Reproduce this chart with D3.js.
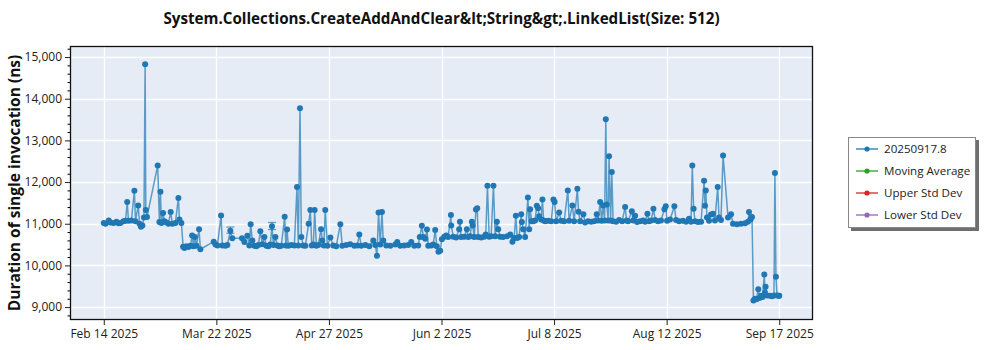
<!DOCTYPE html>
<html>
<head>
<meta charset="utf-8">
<script src="https://cdn.jsdelivr.net/npm/d3@7"></script>
<style>
  html, body { margin: 0; padding: 0; background: #fff; }
  svg { display: block; font-family: "Open Sans", "Noto Sans", sans-serif; }
</style>
</head>
<body>
<svg id="chart" width="1000" height="350"></svg>
<script>
// Benchmark run timestamps (UTC)
const runDates = [
  "2025-02-14 18:00","2025-02-15 07:00","2025-02-16 08:00","2025-02-16 21:00","2025-02-17 20:00",
  "2025-02-18 19:00","2025-02-19 10:00","2025-02-20 01:00","2025-02-21 00:00","2025-02-21 16:00",
  "2025-02-22 05:00","2025-02-22 15:00","2025-02-23 13:00","2025-02-24 12:00","2025-02-24 20:00",
  "2025-02-25 17:00","2025-02-26 03:00","2025-02-26 14:00","2025-02-27 01:00","2025-02-27 13:00",
  "2025-02-27 22:00","2025-02-28 03:00","2025-02-28 12:00","2025-03-03 22:00","2025-03-04 11:00",
  "2025-03-04 19:00","2025-03-05 02:00","2025-03-05 15:00","2025-03-06 01:00","2025-03-06 17:00",
  "2025-03-07 08:00","2025-03-08 01:00","2025-03-08 14:00","2025-03-09 13:00","2025-03-10 12:00",
  "2025-03-10 20:00","2025-03-11 11:00","2025-03-12 00:00","2025-03-12 10:00","2025-03-13 01:00",
  "2025-03-13 17:00","2025-03-14 08:00","2025-03-14 21:00","2025-03-15 07:00","2025-03-15 18:00",
  "2025-03-16 06:00","2025-03-17 02:00","2025-03-17 12:00","2025-03-21 18:00","2025-03-22 07:00",
  "2025-03-22 22:00","2025-03-24 02:00","2025-03-24 12:00","2025-03-25 11:00","2025-03-26 02:00",
  "2025-03-27 01:00","2025-03-27 16:00","2025-03-30 18:00","2025-03-31 12:00","2025-04-01 11:00",
  "2025-04-02 02:00","2025-04-02 12:00","2025-04-03 01:00","2025-04-03 16:00","2025-04-04 08:00",
  "2025-04-04 23:00","2025-04-05 14:00","2025-04-06 06:00","2025-04-06 21:00","2025-04-07 12:00",
  "2025-04-08 03:00","2025-04-08 18:00","2025-04-09 07:00","2025-04-09 18:00","2025-04-10 09:00",
  "2025-04-11 00:00","2025-04-11 15:00","2025-04-12 06:00","2025-04-13 08:00","2025-04-13 17:00",
  "2025-04-14 02:00","2025-04-14 12:00","2025-04-15 11:00","2025-04-16 10:00","2025-04-17 06:00",
  "2025-04-17 16:00","2025-04-18 05:00","2025-04-18 15:00","2025-04-19 06:00","2025-04-19 22:00",
  "2025-04-20 23:00","2025-04-21 12:00","2025-04-21 23:00","2025-04-22 11:00","2025-04-22 21:00",
  "2025-04-23 10:00","2025-04-24 01:00","2025-04-24 22:00","2025-04-25 07:00","2025-04-25 19:00",
  "2025-04-26 06:00","2025-04-26 22:00","2025-04-27 21:00","2025-04-28 19:00","2025-04-29 18:00",
  "2025-05-01 01:00","2025-05-01 16:00","2025-05-02 23:00","2025-05-04 05:00","2025-05-05 12:00",
  "2025-05-06 11:00","2025-05-07 02:00","2025-05-07 17:00","2025-05-09 00:00","2025-05-10 06:00",
  "2025-05-11 13:00","2025-05-12 04:00","2025-05-12 17:00","2025-05-13 05:00","2025-05-13 18:00",
  "2025-05-14 07:00","2025-05-14 17:00","2025-05-15 16:00","2025-05-16 23:00","2025-05-18 13:00",
  "2025-05-19 04:00","2025-05-20 03:00","2025-05-21 09:00","2025-05-22 16:00","2025-05-23 15:00",
  "2025-05-24 14:00","2025-05-25 20:00","2025-05-26 08:00","2025-05-27 00:00","2025-05-27 11:00",
  "2025-05-28 02:00","2025-05-28 15:00","2025-05-29 01:00","2025-05-30 00:00","2025-05-30 15:00",
  "2025-05-31 06:00","2025-05-31 18:00","2025-06-01 07:00","2025-06-01 20:00","2025-06-02 09:00",
  "2025-06-03 03:00","2025-06-03 18:00","2025-06-04 09:00","2025-06-05 06:00","2025-06-05 08:00",
  "2025-06-06 00:00","2025-06-06 22:00","2025-06-07 21:00","2025-06-08 03:00","2025-06-08 12:00",
  "2025-06-09 12:00","2025-06-10 08:00","2025-06-10 18:00","2025-06-11 09:00","2025-06-11 22:00",
  "2025-06-12 04:00","2025-06-12 16:00","2025-06-13 05:00","2025-06-13 15:00","2025-06-13 22:00",
  "2025-06-14 21:00","2025-06-15 20:00","2025-06-16 08:00","2025-06-16 21:00","2025-06-17 10:00",
  "2025-06-18 01:00","2025-06-18 19:00","2025-06-19 08:00","2025-06-19 21:00","2025-06-20 07:00",
  "2025-06-20 22:00","2025-06-21 21:00","2025-06-23 04:00","2025-06-24 03:00","2025-06-24 20:00",
  "2025-06-25 09:00","2025-06-25 22:00","2025-06-26 08:00","2025-06-26 23:00","2025-06-27 15:00",
  "2025-06-27 20:00","2025-06-28 06:00","2025-06-28 21:00","2025-06-29 18:00","2025-06-30 04:00",
  "2025-06-30 11:00","2025-06-30 23:00","2025-07-01 10:00","2025-07-02 01:00","2025-07-02 14:00",
  "2025-07-03 00:00","2025-07-03 08:00","2025-07-03 23:00","2025-07-04 09:00","2025-07-04 18:00",
  "2025-07-05 06:00","2025-07-06 05:00","2025-07-07 04:00","2025-07-07 21:00","2025-07-08 06:00",
  "2025-07-08 18:00","2025-07-09 17:00","2025-07-10 08:00","2025-07-11 07:00","2025-07-12 11:00",
  "2025-07-12 21:00","2025-07-13 22:00","2025-07-14 11:00","2025-07-15 12:00","2025-07-15 21:00",
  "2025-07-16 09:00","2025-07-17 10:00","2025-07-17 23:00","2025-07-18 22:00","2025-07-19 21:00",
  "2025-07-20 20:00","2025-07-21 16:00","2025-07-22 02:00","2025-07-22 18:00","2025-07-23 05:00",
  "2025-07-23 17:00","2025-07-24 04:00","2025-07-24 13:00","2025-07-24 21:00","2025-07-25 07:00",
  "2025-07-25 14:00","2025-07-26 02:00","2025-07-26 11:00","2025-07-26 21:00","2025-07-27 20:00",
  "2025-07-28 19:00","2025-07-29 18:00","2025-07-30 17:00","2025-07-31 04:00","2025-07-31 15:00",
  "2025-08-01 20:00","2025-08-02 06:00","2025-08-02 21:00","2025-08-03 12:00","2025-08-04 11:00",
  "2025-08-05 10:00","2025-08-06 01:00","2025-08-06 19:00","2025-08-07 08:00","2025-08-07 23:00",
  "2025-08-08 17:00","2025-08-09 06:00","2025-08-10 04:00","2025-08-11 03:00","2025-08-12 05:00",
  "2025-08-12 15:00","2025-08-13 01:00","2025-08-14 00:00","2025-08-15 09:00","2025-08-15 22:00",
  "2025-08-16 21:00","2025-08-18 03:00","2025-08-19 02:00","2025-08-20 01:00","2025-08-20 16:00",
  "2025-08-21 02:00","2025-08-21 12:00","2025-08-21 23:00","2025-08-22 22:00","2025-08-23 21:00",
  "2025-08-24 20:00","2025-08-25 03:00","2025-08-25 09:00","2025-08-25 18:00","2025-08-26 10:00",
  "2025-08-27 01:00","2025-08-27 16:00","2025-08-28 07:00","2025-08-29 04:00","2025-08-29 14:00",
  "2025-08-30 05:00","2025-08-30 21:00","2025-09-01 11:00","2025-09-02 10:00","2025-09-03 01:00",
  "2025-09-04 07:00","2025-09-05 14:00","2025-09-06 21:00","2025-09-07 19:00","2025-09-08 03:00",
  "2025-09-08 15:00","2025-09-09 02:00","2025-09-09 13:00","2025-09-10 01:00","2025-09-10 12:00",
  "2025-09-11 02:00","2025-09-11 11:00","2025-09-11 23:00","2025-09-12 10:00","2025-09-13 00:00",
  "2025-09-13 05:00","2025-09-13 10:00","2025-09-13 20:00","2025-09-14 19:00","2025-09-15 11:00",
  "2025-09-16 02:00","2025-09-16 09:00","2025-09-16 17:00","2025-09-17 01:00","2025-09-17 16:00",
  "2025-09-17 18:00"
];

// Mean duration of a single invocation (ns) for each run
const durations = [
  11020,11000,11080,11030,11020, 11050,11010,11020,11060,11070,
  11520,11070,11080,11790,11060, 11440,11000,10930,10960,11150,
  14830,11330,11160,12400,11040, 11770,11020,11260,11060,11030,
  11000,11280,11000,11020,11620, 11100,11020,10450,10420,10460,
  10440,10470,10720,10460,10680, 10470,10870,10390,10570,10500,
  10480,11200,10480,10470,10490, 10830,10650,10650,10560,10710,
  10480,10990,10600,10470,10460, 10490,10820,10510,10680,10470,
  10460,10500,10940,10490,10680, 10480,10460,10470,11170,10480,
  10860,10470,10490,10480,11880, 10480,13770,10680,10480,10470,
  11000,11330,10480,10500,11330, 10470,10490,10870,10600,10480,
  11330,10470,10670,10480,10460, 10990,10470,10490,10510,10470,
  10480,10740,10470,10490,10460, 10600,10490,10230,11270,10500,
  11280,10600,10480,10470,10500, 10560,10470,10480,10490,10560,
  10470,10480,10680,10950,10680, 10640,10860,10470,10480,10500,
  10850,10460,10330,10350,10630, 10690,10720,10680,11210,10960,
  10690,10670,10870,11050,10680, 10690,10870,10680,10700,11050,
  10960,10680,11340,11370,10680, 10670,10690,10740,11910,10690,
  10700,11910,10700,11050,10870, 10690,10680,10700,10740,10570,
  10660,11190,10660,10680,11230, 11040,10870,10680,11630,10870,
  11350,11060,11060,11080,11430, 11370,11180,11100,11580,11080,
  11060,11070,11060,11580,11520, 11060,11270,11070,11060,11800,
  11070,11440,11060,11840,11290, 11060,11230,11030,11060,11050,
  11060,11230,11080,11520,11070, 11440,11080,13510,11460,11080,
  12620,11080,12240,11060,11050, 11090,11060,11400,11080,11060,
  11300,11080,11190,11040,11060, 11080,11050,11240,11060,11080,
  11360,11090,11060,11080,11350, 11420,11070,11100,11420,11090,
  11060,11070,11050,11120,11050, 12400,11360,11060,11040,11050,
  12030,11430,11800,11150,11070, 11220,11240,11080,11880,11150,
  11090,12640,11150,11230,11000, 10990,11000,11010,11050,11280,
  11100,11160, 9160, 9200, 9190,  9430, 9220, 9270, 9240, 9780,
   9350, 9490, 9280, 9270, 9260,  9280,12220, 9730, 9280, 9270,
   9270
];

// Runs that carry a visible spread: [timestamp, low, high]
const errorRuns = [
  ["2025-03-27 01:00", 10770, 10920],
  ["2025-04-09 07:00", 10860, 11030]
];

// Axis ticks
const xTickDates = [
  "2025-02-14 18:00","2025-03-22 14:00","2025-04-27 10:00","2025-06-02 06:00",
  "2025-07-08 02:00","2025-08-12 22:00","2025-09-17 18:00"
];
const yTickValues = [9000, 10000, 11000, 12000, 13000, 14000, 15000];

// Legend entries
const legendNames = ["20250917.8", "Moving Average", "Upper Std Dev", "Lower Std Dev"];
const legendColors = ["#1f77b4", "#2ca02c", "#d62728", "#9467bd"];

const chartTitle = "System.Collections.CreateAddAndClear&lt;String&gt;.LinkedList(Size: 512)";
const yTitle = "Duration of single invocation (ns)";

// ---- drawing ----
const parse = d3.utcParse("%Y-%m-%d %H:%M");
const fmt = d3.utcFormat("%b %-d %Y");
const points = runDates.map((d, i) => ({ t: parse(d), v: durations[i] }));

const svg = d3.select("#chart");
const plot = { left: 70, right: 813, top: 46, bottom: 320 };

const tMin = d3.min(points, d => d.t), tMax = d3.max(points, d => d.t);
const pad = (tMax - tMin) * 0.05;
const x = d3.scaleUtc()
  .domain([new Date(+tMin - pad), new Date(+tMax + pad)])
  .range([plot.left, plot.right]);
const y = d3.scaleLinear()
  .domain([8690, 15265])
  .range([plot.bottom, plot.top]);

// background
svg.append("rect")
  .attr("x", plot.left).attr("y", plot.top)
  .attr("width", plot.right - plot.left).attr("height", plot.bottom - plot.top)
  .attr("fill", "#e5ecf6");

const xTicks = xTickDates.map(parse);

// gridlines
const grid = svg.append("g").attr("stroke", "#ffffff").attr("stroke-width", 1.3);
grid.selectAll("line.gx").data(xTicks).join("line")
  .attr("x1", d => Math.round(x(d)) + 0.5).attr("x2", d => Math.round(x(d)) + 0.5)
  .attr("y1", plot.top).attr("y2", plot.bottom);
grid.selectAll("line.gy").data(yTickValues).join("line")
  .attr("y1", d => Math.round(y(d)) + 0.5).attr("y2", d => Math.round(y(d)) + 0.5)
  .attr("x1", plot.left).attr("x2", plot.right);

// clip to plot area
svg.append("clipPath").attr("id", "clip").append("rect")
  .attr("x", plot.left).attr("y", plot.top)
  .attr("width", plot.right - plot.left).attr("height", plot.bottom - plot.top);
const series = svg.append("g").attr("clip-path", "url(#clip)");

// connecting line
series.append("path")
  .datum(points)
  .attr("fill", "none")
  .attr("stroke", "#1f77b4")
  .attr("stroke-opacity", 0.7)
  .attr("stroke-width", 1.5)
  .attr("d", d3.line().x(d => x(d.t)).y(d => y(d.v)));

// error bars
const eb = series.append("g").attr("stroke", "#1f77b4").attr("stroke-opacity", 0.7).attr("stroke-width", 1.2);
errorRuns.forEach(([d, lo, hi]) => {
  const cx = x(parse(d));
  eb.append("line").attr("x1", cx).attr("x2", cx).attr("y1", y(lo)).attr("y2", y(hi));
  eb.append("line").attr("x1", cx - 4).attr("x2", cx + 4).attr("y1", y(lo)).attr("y2", y(lo));
  eb.append("line").attr("x1", cx - 4).attr("x2", cx + 4).attr("y1", y(hi)).attr("y2", y(hi));
});

// markers
series.selectAll("circle").data(points).join("circle")
  .attr("cx", d => x(d.t)).attr("cy", d => y(d.v))
  .attr("r", 3)
  .attr("fill", "#1f77b4");

// axes
const xAxis = d3.axisBottom(x).tickValues(xTicks).tickFormat(fmt).tickSize(5).tickPadding(4);
const gx = svg.append("g").attr("transform", `translate(0,${plot.bottom})`).call(xAxis);
const yAxis = d3.axisLeft(y).tickValues(yTickValues).tickFormat(d3.format(",")).tickSize(5).tickPadding(3);
const gy = svg.append("g").attr("transform", `translate(${plot.left},0)`).call(yAxis);
const yMinor = d3.range(8800, 15201, 200).filter(v => v % 1000 !== 0);
svg.append("g").attr("transform", `translate(${plot.left},0)`)
  .call(d3.axisLeft(y).tickValues(yMinor).tickFormat("").tickSize(2.5))
  .select(".domain").remove();

[gx, gy].forEach(g => {
  g.select(".domain").remove();
  g.selectAll("text").attr("font-size", 12).attr("fill", "#222")
    .attr("font-family", "'Open Sans', sans-serif");
  g.selectAll("line").attr("stroke", "#222");
});

// frame
svg.append("rect")
  .attr("x", plot.left + 0.5).attr("y", plot.top + 0.5)
  .attr("width", plot.right - plot.left - 1).attr("height", plot.bottom - plot.top - 1)
  .attr("fill", "none").attr("stroke", "#111").attr("stroke-width", 1.3);

// titles
svg.append("text")
  .attr("x", (plot.left + plot.right) / 2).attr("y", 24)
  .attr("text-anchor", "middle")
  .attr("font-size", 15.2).attr("font-weight", "bold").attr("fill", "#111")
  .text(chartTitle);

svg.append("text")
  .attr("transform", `translate(20,${(plot.top + plot.bottom) / 2}) rotate(-90)`)
  .attr("text-anchor", "middle")
  .attr("font-size", 15.5).attr("font-weight", "bold").attr("fill", "#111")
  .text(yTitle);

// legend
const lg = svg.append("g").attr("transform", "translate(848,137)");
lg.append("rect").attr("x", 3).attr("y", 3).attr("width", 128).attr("height", 91).attr("fill", "#6e6e6e");
lg.append("rect").attr("x", 0.5).attr("y", 0.5).attr("width", 127).attr("height", 90)
  .attr("fill", "#fff").attr("stroke", "#888");
legendNames.forEach((name, i) => {
  const gy0 = 12 + i * 22;
  lg.append("line").attr("x1", 8).attr("x2", 30).attr("y1", gy0).attr("y2", gy0)
    .attr("stroke", legendColors[i]).attr("stroke-width", 1.3);
  lg.append("circle").attr("cx", 19).attr("cy", gy0).attr("r", 2.6).attr("fill", legendColors[i]);
  lg.append("text").attr("x", 36).attr("y", gy0 + 4)
    .attr("font-size", 11.6).attr("fill", "#222").text(name);
});
</script>
</body>
</html>
